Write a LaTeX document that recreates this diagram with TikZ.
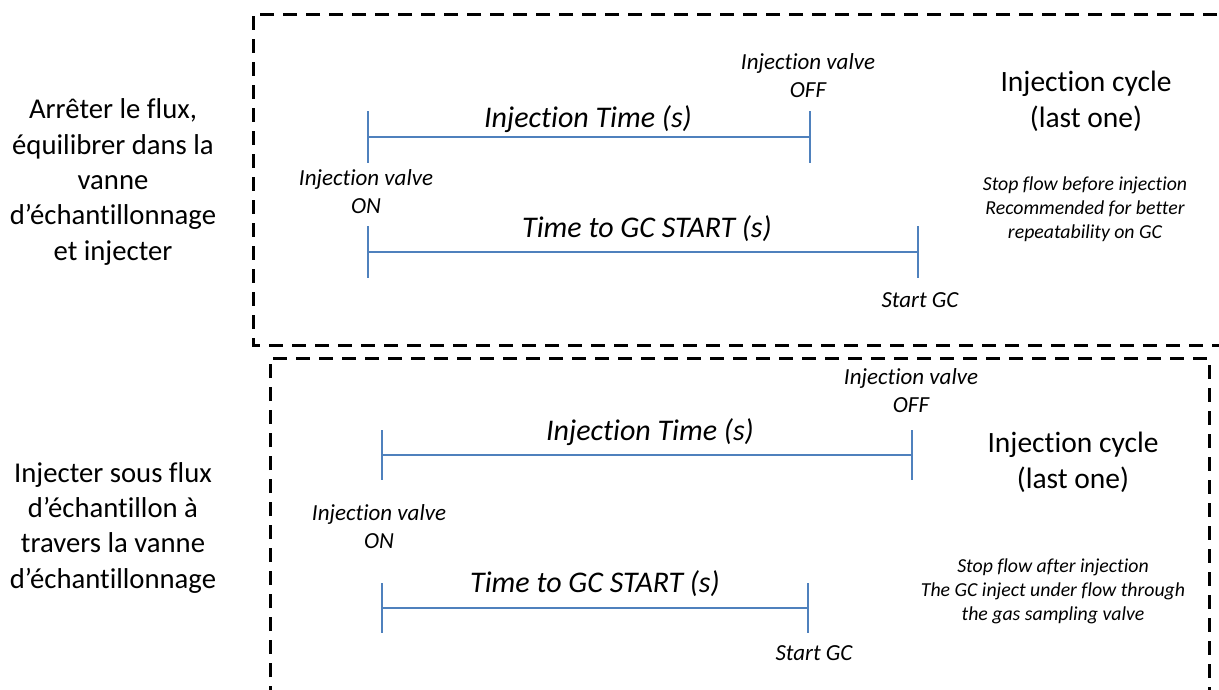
\documentclass[tikz,border=0pt]{standalone}
\usepackage{fontspec}
\setmainfont{Carlito}[Ligatures=CommonOff]
\definecolor{lineblue}{RGB}{79,129,189}
\tikzset{
  framebox/.style = {draw, line width=3pt, dash pattern=on 14pt off 9pt},
  spanline/.style = {draw=lineblue, line width=2pt},
  % multi-line nodes sit on the baseline of their last line
  sidetext/.style = {align=center, anchor=base,
                     font=\fontsize{28.7}{35.3}\selectfont},
  cycletext/.style = {align=center, anchor=base,
                      font=\fontsize{29.5}{35.5}\selectfont},
  spantext/.style = {anchor=base, font=\fontsize{30}{35}\selectfont\itshape},
  valvetext/.style = {align=center, anchor=base,
                      font=\fontsize{23}{27.5}\selectfont\itshape},
  notetext/.style = {align=center, anchor=base,
                     font=\fontsize{19.8}{23.7}\selectfont\itshape}}

\begin{document}
\begin{tikzpicture}[x=1pt,y=-1pt]
  \useasboundingbox (0,0) rectangle (1219,689);

  % the two dashed frames
  \draw[framebox] (1240,14) -- (253,14) -- (253,345) -- (1240,345);
  \draw[framebox] (270,700) -- (270,358) -- (1209,358) -- (1209,700);

  % ---- first cycle: stop flow, then inject
  \node[sidetext] (stopA) at (113,260)
    {Arrêter le flux,\\équilibrer dans la\\vanne\\d’échantillonnage\\et injecter};

  \coordinate (onA)  at (368,137);
  \coordinate (offA) at (810,137);
  \coordinate (gcA0) at (368,252);
  \coordinate (gcA)  at (918,252);

  \draw[spanline] (onA) -- (offA);
  \draw[spanline] ([yshift=26pt]onA) -- ([yshift=-26pt]onA);
  \draw[spanline] ([yshift=26pt]offA) -- ([yshift=-26pt]offA);
  \draw[spanline] (gcA0) -- (gcA);
  \draw[spanline] ([yshift=26pt]gcA0) -- ([yshift=-26pt]gcA0);
  \draw[spanline] ([yshift=26pt]gcA) -- ([yshift=-26pt]gcA);

  \node[spantext] (injtA) at (588,127) {Injection Time (s)};
  \node[spantext] (gctA)  at (647,237) {Time to GC START (s)};
  \node[valvetext] (voffA) at (808,97) {Injection valve\\OFF};
  \node[valvetext] (vonA)  at (366,213) {Injection valve\\ON};
  \node[valvetext] (startA) at (920,307) {Start GC};
  \node[cycletext] (cycA) at (1086,127) {Injection cycle\\(last one)};
  \node[notetext] (noteA) at (1085,238)
    {Stop flow before injection\\Recommended for better\\repeatability on GC};

  % ---- second cycle: inject under sample flow
  \node[sidetext] (flowB) at (113,588)
    {Injecter sous flux\\d’échantillon à\\travers la vanne\\d’échantillonnage};

  \coordinate (onB)  at (382,455);
  \coordinate (offB) at (912,455);
  \coordinate (gcB0) at (382,608);
  \coordinate (gcB)  at (808,608);

  \draw[spanline] (onB) -- (offB);
  \draw[spanline] ([yshift=25pt]onB) -- ([yshift=-25pt]onB);
  \draw[spanline] ([yshift=25pt]offB) -- ([yshift=-25pt]offB);
  \draw[spanline] (gcB0) -- (gcB);
  \draw[spanline] ([yshift=25pt]gcB0) -- ([yshift=-25pt]gcB0);
  \draw[spanline] ([yshift=25pt]gcB) -- ([yshift=-25pt]gcB);

  \node[spantext] (injtB) at (650,440) {Injection Time (s)};
  \node[spantext] (gctB)  at (595,592) {Time to GC START (s)};
  \node[valvetext] (voffB) at (911,412) {Injection valve\\OFF};
  \node[valvetext] (vonB)  at (379,548) {Injection valve\\ON};
  \node[valvetext] (startB) at (814,660) {Start GC};
  \node[cycletext] (cycB) at (1073,488) {Injection cycle\\(last one)};
  \node[notetext] (noteB) at (1053,620)
    {Stop flow after injection\\The GC inject under flow through\\the gas sampling valve};
\end{tikzpicture}
\end{document}
